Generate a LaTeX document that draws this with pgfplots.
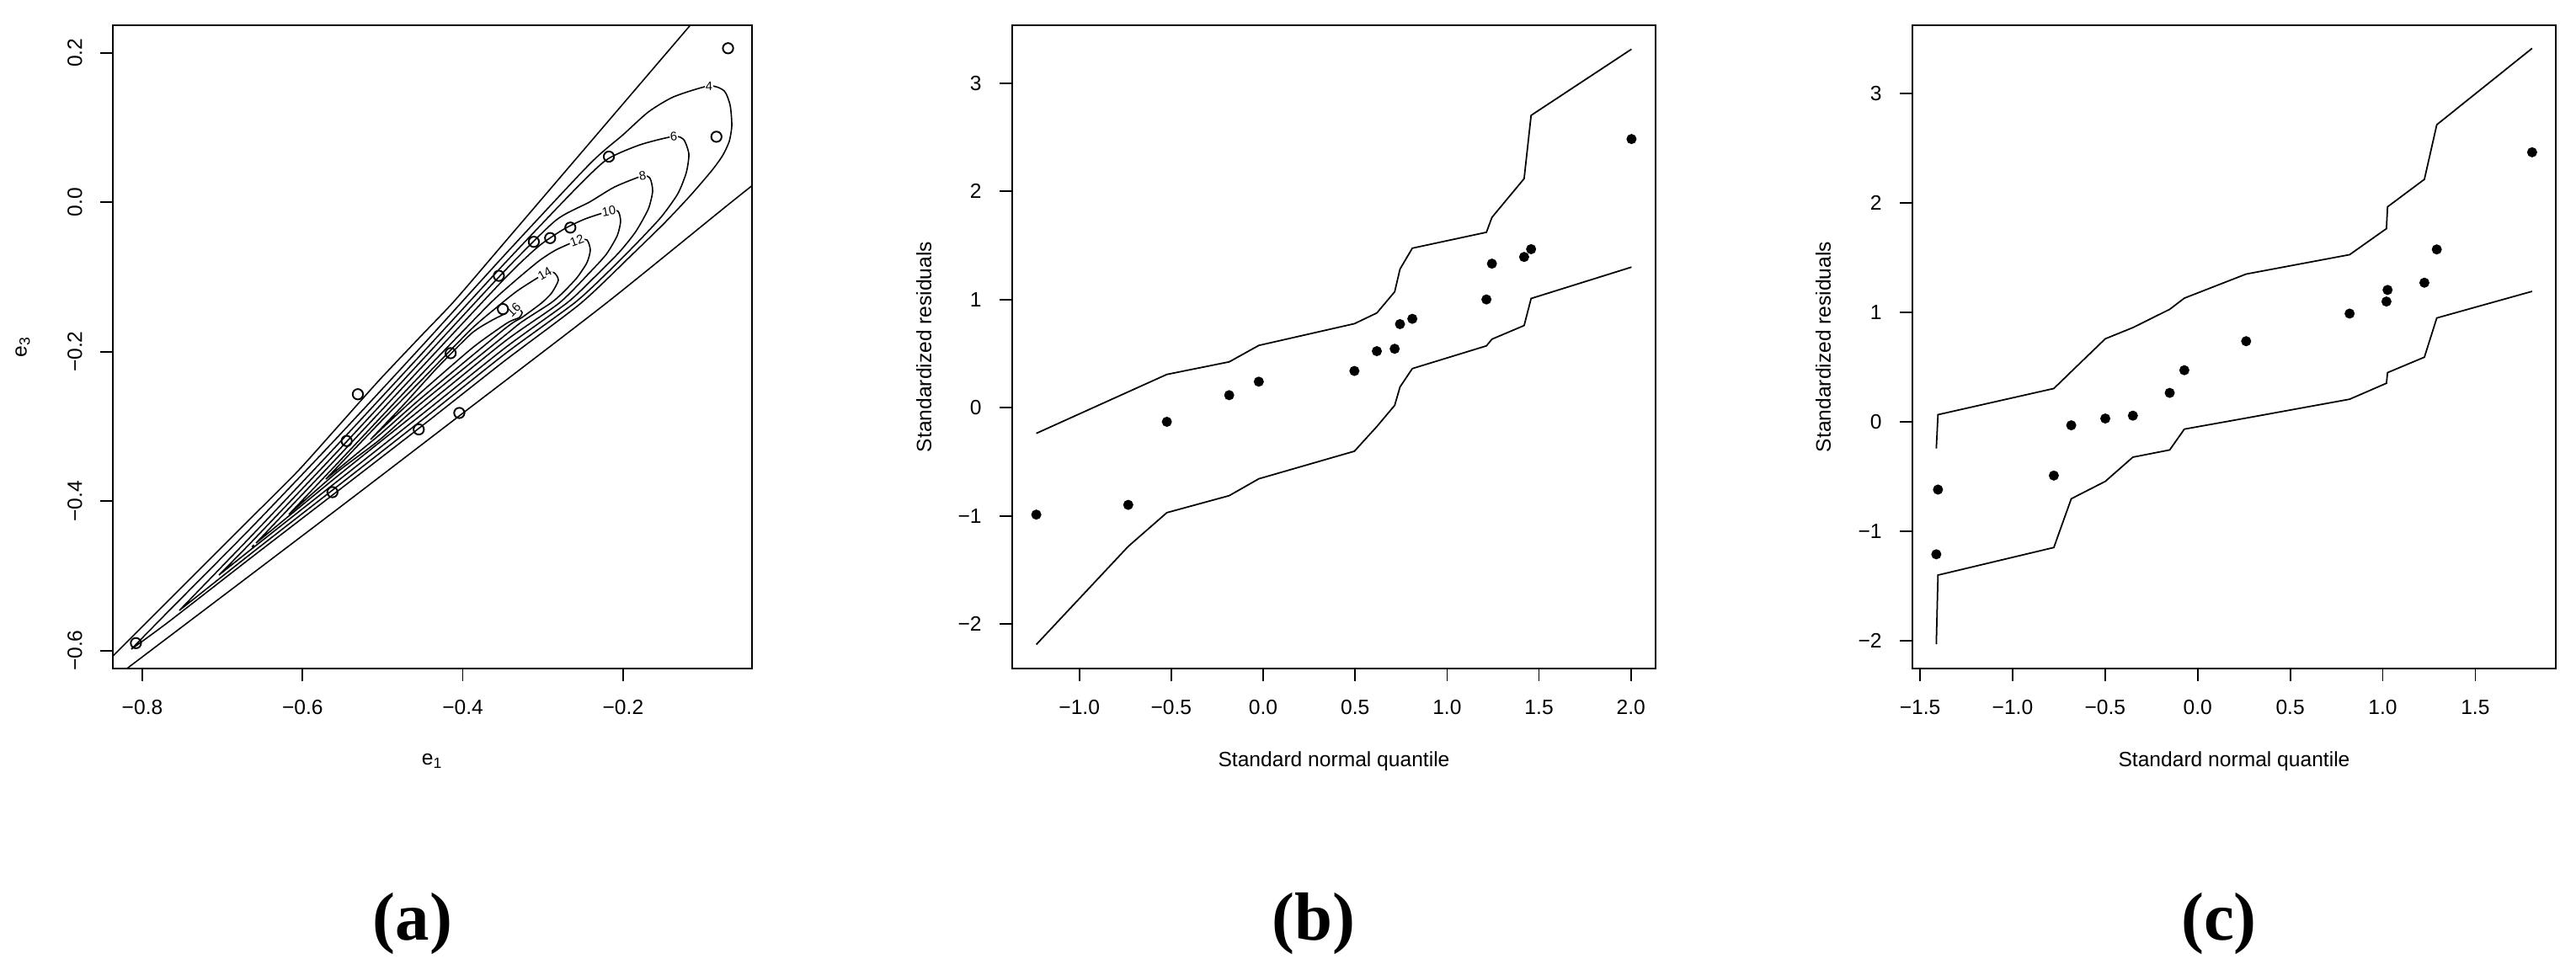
\documentclass[border=0pt]{standalone}
\usepackage{fontspec}
\setmainfont{Liberation Sans}
\newfontfamily\capfont{Liberation Serif}
\usepackage{pgfplots}
\pgfplotsset{compat=1.18}

\newcommand\clab{\fontsize{4.2}{5}\selectfont}

\pgfplotsset{
  rpanel/.style={
    scale only axis,
    anchor=south west,
    axis line style={line width=0.5pt},
    tick align=outside,
    major tick length=1.5mm,
    xtick pos=left, ytick pos=left,
    every tick/.style={black, line width=0.5pt},
    tick label style={font=\fontsize{7}{8}\selectfont},
    label style={font=\fontsize{7}{8}\selectfont},
    xticklabel style={anchor=center},
    xticklabel shift=3.1mm,
  },
  env/.style={black, line width=0.5pt, mark=none},
  cline/.style={black, line width=0.45pt, mark=none, smooth, tension=0.4},
}

\begin{document}
\begin{tikzpicture}
\path[use as bounding box] (0,0) rectangle (30.59,11.57);

% (a) contours of the fitted density with the observations
\begin{axis}[rpanel,
    at={(1.34cm,3.63cm)}, width=7.59cm, height=7.64cm,
    xmin=-0.8368, xmax=-0.0391, ymin=-0.6240, ymax=0.2368,
    xtick={-0.8,-0.6,-0.4,-0.2}, xticklabels={−0.8,−0.6,−0.4,−0.2},
    ytick={-0.6,-0.4,-0.2,0,0.2}, yticklabels={−0.6,−0.4,−0.2,0.0,0.2},
    yticklabel style={rotate=90, anchor=center}, yticklabel shift=3.0mm,
    xlabel={e\textsubscript{1}}, ylabel={e\textsubscript{3}},
    xlabel style={at={(axis description cs:0.5,-0.144)}, anchor=center},
    ylabel style={at={(axis description cs:-0.141,0.5)}, anchor=center},
]
% level 2 (open)
\addplot[cline] coordinates {(-0.8515,-0.6232) (-0.7674,-0.5331) (-0.6623,-0.4204) (-0.6063,-0.3603) (-0.5572,-0.3017) (-0.5047,-0.2386) (-0.4521,-0.1789) (-0.4101,-0.1316) (-0.3470,-0.0527) (-0.2419,0.0791) (-0.1368,0.2109) (-0.1053,0.2504)};
\addplot[cline] coordinates {(-0.8515,-0.6502) (-0.8182,-0.6232) (-0.6623,-0.4967) (-0.5362,-0.3941) (-0.4017,-0.2837) (-0.2209,-0.1350) (-0.0738,-0.0076) (-0.0317,0.0284)};
% level 4
\addplot[cline] coordinates {(-0.8137,-0.5981) (-0.7674,-0.5474) (-0.6623,-0.4336) (-0.5572,-0.3153) (-0.4521,-0.1936) (-0.3470,-0.0696) (-0.2419,0.0509) (-0.1999,0.0904) (-0.1684,0.1208) (-0.1368,0.1411) (-0.0927,0.1557) (-0.0738,0.1490) (-0.0664,0.1298) (-0.0643,0.1028) (-0.0675,0.0814) (-0.0759,0.0622) (-0.0896,0.0419) (-0.1158,0.0092) (-0.1474,-0.0268) (-0.1894,-0.0708) (-0.2525,-0.1350) (-0.3470,-0.2116) (-0.4521,-0.3003) (-0.5572,-0.3874) (-0.6623,-0.4741) (-0.7674,-0.5617) (-0.8137,-0.5981)};
% level 6
\addplot[cline] coordinates {(-0.7538,-0.5463) (-0.6623,-0.4448) (-0.5572,-0.3254) (-0.4521,-0.2037) (-0.3470,-0.0809) (-0.2630,0.0138) (-0.2209,0.0566) (-0.1789,0.0768) (-0.1368,0.0881) (-0.1242,0.0836) (-0.1179,0.0644) (-0.1211,0.0397) (-0.1316,0.0115) (-0.1526,-0.0200) (-0.1841,-0.0561) (-0.2209,-0.0956) (-0.2609,-0.1350) (-0.3470,-0.2026) (-0.4521,-0.2924) (-0.5572,-0.3807) (-0.6623,-0.4685) (-0.7538,-0.5463)};
% level 8
\addplot[cline] coordinates {(-0.7044,-0.4989) (-0.6623,-0.4531) (-0.5572,-0.3344) (-0.4521,-0.2127) (-0.3470,-0.0910) (-0.2840,-0.0243) (-0.2419,0.0002) (-0.2104,0.0205) (-0.1757,0.0352) (-0.1663,0.0318) (-0.1631,0.0149) (-0.1684,-0.0088) (-0.1841,-0.0392) (-0.2052,-0.0674) (-0.2419,-0.1068) (-0.2703,-0.1350) (-0.3470,-0.1947) (-0.4521,-0.2848) (-0.5572,-0.3739) (-0.6623,-0.4629) (-0.7044,-0.4989)};
% level 10
\addplot[cline] coordinates {(-0.6581,-0.4561) (-0.5572,-0.3423) (-0.4521,-0.2217) (-0.3470,-0.1012) (-0.3050,-0.0586) (-0.2735,-0.0358) (-0.2472,-0.0223) (-0.2178,-0.0122) (-0.2062,-0.0122) (-0.2031,-0.0257) (-0.2073,-0.0448) (-0.2209,-0.0696) (-0.2419,-0.0944) (-0.2798,-0.1350) (-0.3470,-0.1857) (-0.4521,-0.2769) (-0.5572,-0.3672) (-0.6581,-0.4561)};
% level 12
\addplot[cline] coordinates {(-0.6171,-0.4178) (-0.5572,-0.3502) (-0.4521,-0.2308) (-0.3681,-0.1376) (-0.3365,-0.1068) (-0.3050,-0.0786) (-0.2840,-0.0640) (-0.2577,-0.0516) (-0.2451,-0.0505) (-0.2409,-0.0640) (-0.2451,-0.0809) (-0.2577,-0.1012) (-0.2756,-0.1215) (-0.2903,-0.1350) (-0.3260,-0.1598) (-0.3470,-0.1778) (-0.4521,-0.2690) (-0.5047,-0.3187) (-0.5572,-0.3615) (-0.6171,-0.4178)};
% level 14
\addplot[cline] coordinates {(-0.5709,-0.3705) (-0.5047,-0.2961) (-0.4521,-0.2386) (-0.3891,-0.1695) (-0.3576,-0.1406) (-0.3313,-0.1181) (-0.2977,-0.0956) (-0.2861,-0.0944) (-0.2808,-0.1044) (-0.2892,-0.1215) (-0.3019,-0.1350) (-0.3260,-0.1541) (-0.3470,-0.1688) (-0.4521,-0.2623) (-0.5047,-0.3119) (-0.5709,-0.3705)};
% level 16
\addplot[cline] coordinates {(-0.5152,-0.3175) (-0.4732,-0.2702) (-0.4311,-0.2206) (-0.3891,-0.1755) (-0.3628,-0.1575) (-0.3365,-0.1440) (-0.3302,-0.1429) (-0.3260,-0.1474) (-0.3292,-0.1541) (-0.3418,-0.1598) (-0.3576,-0.1710) (-0.3891,-0.1958) (-0.4521,-0.2544) (-0.4942,-0.2961) (-0.5152,-0.3175)};
% tiny closed piece near the tip of level 10
\addplot[only marks, mark=*, mark size=0.4pt, mark options={black}] coordinates {(-0.6613,-0.4606)};
% contour labels
\begin{scope}[every node/.style={fill=white, inner sep=0.2pt, font=\clab}]
\node at (axis cs:-0.0927,0.1557) {4};
\node[rotate=5] at (axis cs:-0.1368,0.0881) {6};
\node[rotate=10] at (axis cs:-0.1757,0.0352) {8};
\node[rotate=10] at (axis cs:-0.2178,-0.0122) {10};
\node[rotate=20] at (axis cs:-0.2577,-0.0516) {12};
\node[rotate=30] at (axis cs:-0.2977,-0.0956) {14};
\node[rotate=45] at (axis cs:-0.3365,-0.1440) {16};
\end{scope}
% observations
\addplot[only marks, mark=o, mark size=1.75pt, mark options={black, line width=0.55pt}] coordinates {
 (-0.069,0.206) (-0.0835,0.0876) (-0.2177,0.061) (-0.2658,-0.034) (-0.291,-0.048)
 (-0.3114,-0.053) (-0.355,-0.0985) (-0.35,-0.143) (-0.4152,-0.202) (-0.531,-0.257)
 (-0.545,-0.3195) (-0.4044,-0.282) (-0.455,-0.304) (-0.5627,-0.388) (-0.808,-0.590)};
\end{axis}

% (b) QQ plot with simulated envelope
\begin{axis}[rpanel,
    at={(12.02cm,3.63cm)}, width=7.64cm, height=7.64cm,
    xmin=-1.365, xmax=2.134, ymin=-2.411, ymax=3.536,
    xtick={-1,-0.5,0,0.5,1,1.5,2}, xticklabels={−1.0,−0.5,0.0,0.5,1.0,1.5,2.0},
    ytick={-2,-1,0,1,2,3}, yticklabels={−2,−1,0,1,2,3},
    yticklabel style={anchor=east}, yticklabel shift=0.9mm,
    xlabel={Standard normal quantile}, ylabel={Standardized residuals},
    xlabel style={at={(axis description cs:0.5,-0.144)}, anchor=center},
    ylabel style={at={(axis description cs:-0.1374,0.5)}, anchor=center},
]
\addplot[env] coordinates {(-1.234,-0.237) (-0.734,0.147) (-0.524,0.308) (-0.185,0.424) (-0.024,0.576) (0.496,0.777) (0.618,0.876) (0.715,1.072) (0.744,1.282) (0.811,1.475) (1.214,1.622) (1.244,1.760) (1.419,2.118) (1.457,2.703) (2.003,3.315)};
\addplot[env] coordinates {(-1.234,-2.189) (-0.734,-1.282) (-0.524,-0.970) (-0.185,-0.813) (-0.024,-0.657) (0.496,-0.402) (0.618,-0.174) (0.715,0.022) (0.744,0.192) (0.811,0.362) (1.214,0.572) (1.244,0.634) (1.419,0.760) (1.457,1.010) (2.003,1.300)};
\addplot[only marks, mark=*, mark size=1.5pt, mark options={black}] coordinates {
 (-1.234,-0.988) (-0.734,-0.898) (-0.524,-0.130) (-0.185,0.116) (-0.024,0.241)
 (0.496,0.340) (0.618,0.523) (0.715,0.545) (0.744,0.773) (0.811,0.822)
 (1.214,1.001) (1.244,1.332) (1.419,1.394) (1.457,1.466) (2.003,2.484)};
\end{axis}

% (c) QQ plot with simulated envelope
\begin{axis}[rpanel,
    at={(22.71cm,3.63cm)}, width=7.64cm, height=7.64cm,
    xmin=-1.541, xmax=1.935, ymin=-2.252, ymax=3.622,
    xtick={-1.5,-1,-0.5,0,0.5,1,1.5}, xticklabels={−1.5,−1.0,−0.5,0.0,0.5,1.0,1.5},
    ytick={-2,-1,0,1,2,3}, yticklabels={−2,−1,0,1,2,3},
    yticklabel style={anchor=east}, yticklabel shift=0.9mm,
    xlabel={Standard normal quantile}, ylabel={Standardized residuals},
    xlabel style={at={(axis description cs:0.5,-0.144)}, anchor=center},
    ylabel style={at={(axis description cs:-0.1387,0.5)}, anchor=center},
]
\addplot[env] coordinates {(-1.412,-0.243) (-1.403,0.066) (-0.777,0.305) (-0.683,0.459) (-0.499,0.759) (-0.350,0.861) (-0.151,1.028) (-0.072,1.130) (0.262,1.350) (0.821,1.527) (1.020,1.765) (1.026,1.964) (1.225,2.215) (1.292,2.714) (1.807,3.411)};
\addplot[env] coordinates {(-1.412,-2.030) (-1.403,-1.399) (-0.777,-1.147) (-0.683,-0.702) (-0.499,-0.543) (-0.350,-0.322) (-0.151,-0.256) (-0.072,-0.066) (0.262,0.035) (0.821,0.207) (1.020,0.353) (1.026,0.450) (1.225,0.591) (1.292,0.949) (1.807,1.192)};
\addplot[only marks, mark=*, mark size=1.5pt, mark options={black}] coordinates {
 (-1.412,-1.209) (-1.403,-0.618) (-0.777,-0.490) (-0.683,-0.031) (-0.499,0.031)
 (-0.350,0.057) (-0.151,0.265) (-0.072,0.472) (0.262,0.737) (0.821,0.989)
 (1.020,1.099) (1.026,1.205) (1.225,1.271) (1.292,1.575) (1.807,2.462)};
\end{axis}

% sub-figure captions
\begin{scope}[every node/.style={font=\capfont\bfseries\fontsize{23}{26}\selectfont}]
\node at (4.90,0.60) {(a)};
\node at (15.60,0.60) {(b)};
\node at (26.35,0.60) {(c)};
\end{scope}
\end{tikzpicture}
\end{document}
